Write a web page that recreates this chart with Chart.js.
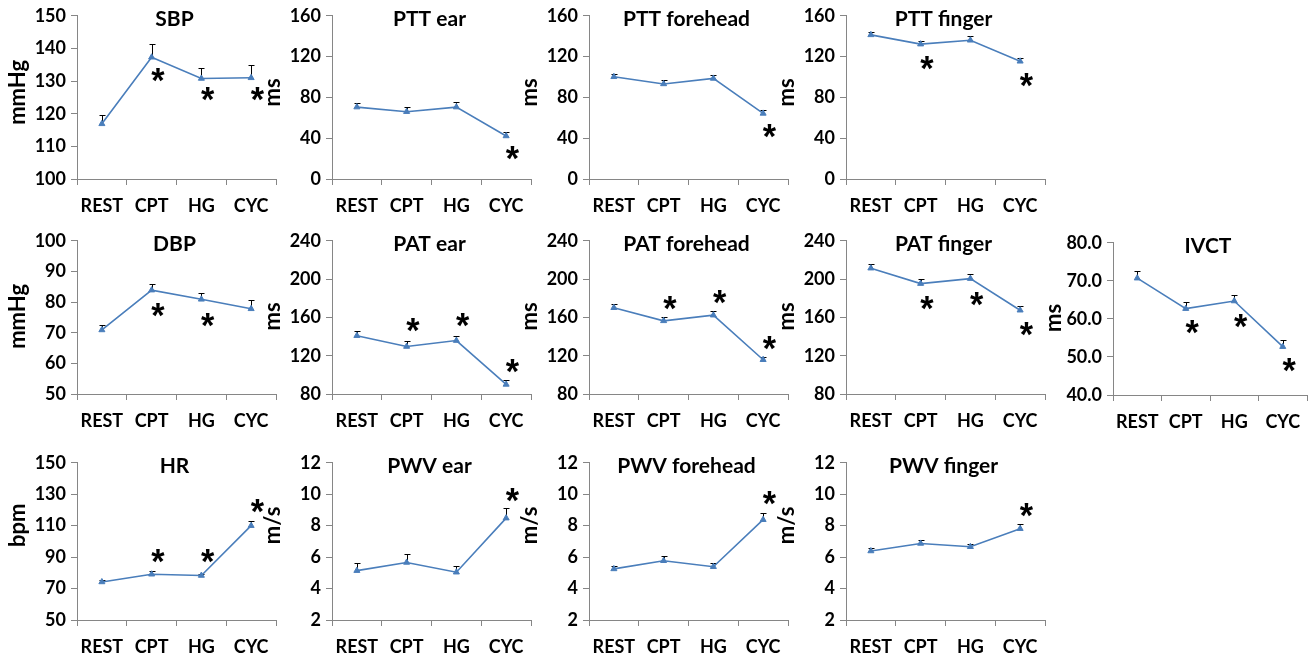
<!DOCTYPE html>
<html><head><meta charset="utf-8">
<script src="https://cdn.jsdelivr.net/npm/chart.js@4.4.1/dist/chart.umd.min.js"></script>
<style>
html,body{margin:0;padding:0;background:#fff;}
#fig{position:relative;width:1312px;height:659px;overflow:hidden;background:#fff;}
#fig canvas{position:absolute;}
</style></head><body><div id="fig"></div>
<script>
// ---------- data ----------
const categories = ['REST', 'CPT', 'HG', 'CYC'];

const sbpMean  = [116.9, 137.3, 130.8, 131.0];
const sbpErr   = [2.7, 4.0, 3.2, 4.0];
const sbpStar  = [null, 132, 126, 126];
const sbpAxis  = [100, 150, 10];

const pttEarMean = [70.5, 66.0, 70.5, 42.2];
const pttEarErr  = [4.1, 5.0, 4.5, 3.5];
const pttEarStar = [null, null, null, 25.4];

const pttForeheadMean = [100.2, 93.2, 98.6, 64.3];
const pttForeheadErr  = [3.2, 4.1, 3.6, 2.9];
const pttForeheadStar = [null, null, null, 47.2];

const pttFingerMean = [141.3, 132.2, 136.0, 115.4];
const pttFingerErr  = [3.2, 3.3, 4.0, 2.9];
const pttFingerStar = [null, 113.8, null, 96.7];
const pttAxis = [0, 160, 40];

const dbpMean = [70.9, 83.9, 80.9, 77.8];
const dbpErr  = [1.6, 2.1, 2.0, 2.9];
const dbpStar = [null, 77.3, 74.2, null];
const dbpAxis = [50, 100, 10];

const patEarMean = [140.9, 129.6, 135.8, 90.0];
const patEarErr  = [4.6, 6.2, 4.4, 4.5];
const patEarStar = [null, 152.3, 157, 109.3];

const patForeheadMean = [170.1, 156.4, 162.3, 115.8];
const patForeheadErr  = [3.5, 4.4, 4.4, 2.7];
const patForeheadStar = [null, 175.3, 181, 133];

const patFingerMean = [211.4, 195.3, 200.5, 167.5];
const patFingerErr  = [4.1, 4.7, 4.7, 4.1];
const patFingerStar = [null, 175.3, 179.4, 147.7];
const patAxis = [80, 240, 40];

const ivctMean = [70.7, 62.7, 64.7, 52.7];
const ivctErr  = [1.8, 1.7, 1.7, 1.8];
const ivctStar = [null, 57.9, 59.5, 47.8];
const ivctAxis = [40, 80, 10];

const hrMean = [74.2, 79.1, 78.3, 110.0];
const hrErr  = [1.5, 2.1, 1.2, 3.2];
const hrStar = [null, 91, 91, 122.6];
const hrAxis = [50, 150, 20];

const pwvEarMean = [5.14, 5.66, 5.04, 8.48];
const pwvEarErr  = [0.46, 0.56, 0.42, 0.62];
const pwvEarStar = [null, null, null, 9.94];

const pwvForeheadMean = [5.25, 5.77, 5.39, 8.38];
const pwvForeheadErr  = [0.21, 0.31, 0.21, 0.45];
const pwvForeheadStar = [null, null, null, 9.73];

const pwvFingerMean = [6.39, 6.87, 6.66, 7.81];
const pwvFingerErr  = [0.21, 0.25, 0.19, 0.29];
const pwvFingerStar = [null, null, null, 9.0];
const pwvAxis = [2, 12, 2];

// ---------- layout / style ----------
const FONT = 'Lato, "Open Sans", "Liberation Sans", sans-serif';
const BLUE = '#4A7EBB';
const AXIS = '#868686';
const colAxisX = [77, 332, 589, 846, 1113];
const rowPlot = [[14, 179], [239, 394], [461, 620]];
const rowCanvasBottom = [215, 438, 659];
const rowYTitleShift = [-5, -1, -16];
const LEFT = 77;

const panels = [
  {title:'SBP', yTitle:'mmHg', mean:sbpMean, err:sbpErr, star:sbpStar, axis:sbpAxis, col:0, row:0},
  {title:'PTT ear', yTitle:'ms', mean:pttEarMean, err:pttEarErr, star:pttEarStar, axis:pttAxis, col:1, row:0},
  {title:'PTT forehead', yTitle:'ms', mean:pttForeheadMean, err:pttForeheadErr, star:pttForeheadStar, axis:pttAxis, col:2, row:0},
  {title:'PTT finger', yTitle:'ms', mean:pttFingerMean, err:pttFingerErr, star:pttFingerStar, axis:pttAxis, col:3, row:0},
  {title:'DBP', yTitle:'mmHg', mean:dbpMean, err:dbpErr, star:dbpStar, axis:dbpAxis, col:0, row:1},
  {title:'PAT ear', yTitle:'ms', mean:patEarMean, err:patEarErr, star:patEarStar, axis:patAxis, col:1, row:1},
  {title:'PAT forehead', yTitle:'ms', mean:patForeheadMean, err:patForeheadErr, star:patForeheadStar, axis:patAxis, col:2, row:1},
  {title:'PAT finger', yTitle:'ms', mean:patFingerMean, err:patFingerErr, star:patFingerStar, axis:patAxis, col:3, row:1},
  {title:'IVCT', yTitle:'ms', mean:ivctMean, err:ivctErr, star:ivctStar, axis:ivctAxis, col:4, row:1, decimals:1, plotW:195, plot:[241,395]},
  {title:'HR', yTitle:'bpm', mean:hrMean, err:hrErr, star:hrStar, axis:hrAxis, col:0, row:2},
  {title:'PWV ear', yTitle:'m/s', mean:pwvEarMean, err:pwvEarErr, star:pwvEarStar, axis:pwvAxis, col:1, row:2},
  {title:'PWV forehead', yTitle:'m/s', mean:pwvForeheadMean, err:pwvForeheadErr, star:pwvForeheadStar, axis:pwvAxis, col:2, row:2},
  {title:'PWV finger', yTitle:'m/s', mean:pwvFingerMean, err:pwvFingerErr, star:pwvFingerStar, axis:pwvAxis, col:3, row:2}
];

const fig = document.getElementById('fig');

function panelPlugin(p) {
  return {
    id: 'panelDecor',
    beforeDatasetsDraw(chart) {
      const ctx = chart.ctx, xs = chart.scales.x, ys = chart.scales.y;
      ctx.save();
      ctx.strokeStyle = '#000';
      ctx.lineWidth = 1;
      p.err.forEach((e, i) => {
        const m = p.mean[i];
        const x = Math.round(xs.getPixelForValue(i)) + 0.5;
        const y0 = ys.getPixelForValue(m);
        const y1 = Math.round(ys.getPixelForValue(m + e)) + 0.5;
        ctx.beginPath();
        ctx.moveTo(x, y0); ctx.lineTo(x, y1);
        ctx.moveTo(x - 3, y1); ctx.lineTo(x + 3, y1);
        ctx.stroke();
      });
      ctx.restore();
    },
    afterDraw(chart) {
      const ctx = chart.ctx, xs = chart.scales.x, ys = chart.scales.y, ca = chart.chartArea;
      ctx.save();
      ctx.fillStyle = '#000';
      // panel title
      ctx.font = 'bold 21px ' + FONT;
      ctx.textAlign = 'center';
      ctx.textBaseline = 'alphabetic';
      const capH = ctx.measureText('H').actualBoundingBoxAscent;
      ctx.fillText(p.title, (ca.left + ca.right) / 2 - 2, ca.top + 3 + capH / 2);
      // y axis title
      ctx.save();
      ctx.font = 'bold 22px ' + FONT;
      ctx.translate(ca.left - 59, (ca.top + ca.bottom) / 2 + rowYTitleShift[p.row]);
      ctx.rotate(-Math.PI / 2);
      ctx.textAlign = 'center';
      ctx.textBaseline = 'middle';
      ctx.fillText(p.yTitle, 0, 0);
      ctx.restore();
      // significance stars
      ctx.font = 'bold 100px "Liberation Sans", sans-serif';
      let m = ctx.measureText('*');
      const inkH = m.actualBoundingBoxAscent + m.actualBoundingBoxDescent;
      const size = 100 * 13 / inkH;
      ctx.font = 'bold ' + size.toFixed(2) + 'px "Liberation Sans", sans-serif';
      m = ctx.measureText('*');
      const off = (m.actualBoundingBoxAscent - m.actualBoundingBoxDescent) / 2;
      const offX = (m.actualBoundingBoxRight - m.actualBoundingBoxLeft) / 2;
      ctx.textAlign = 'left';
      p.star.forEach((s, i) => {
        if (s === null) return;
        const x = xs.getPixelForValue(i);
        const y = ys.getPixelForValue(s);
        ctx.fillText('*', x - offX, y + off);
      });
      ctx.restore();
    }
  };
}

panels.forEach(p => {
  const plotW = p.plotW || 200;
  const [top, bottom] = p.plot || rowPlot[p.row];
  const canvasTop = top - 14;
  const H = rowCanvasBottom[p.row] - canvasTop;
  const W = LEFT + plotW + 4;
  const canvas = document.createElement('canvas');
  canvas.width = W; canvas.height = H;
  canvas.style.left = (colAxisX[p.col] - LEFT) + 'px';
  canvas.style.top = canvasTop + 'px';
  canvas.style.width = W + 'px'; canvas.style.height = H + 'px';
  fig.appendChild(canvas);
  const tickFont = {family: FONT, size: 18, weight: 'bold'};
  new Chart(canvas, {
    type: 'line',
    data: {
      labels: categories,
      datasets: [{
        data: p.mean,
        borderColor: BLUE, backgroundColor: BLUE,
        borderWidth: 1.6, tension: 0, fill: false,
        pointStyle: 'triangle', pointRadius: 3.5, pointBorderWidth: 1,
        pointBackgroundColor: BLUE, pointBorderColor: BLUE
      }]
    },
    options: {
      responsive: false, animation: false, devicePixelRatio: 1,
      layout: {padding: {top: 14, left: 0, right: 4, bottom: 0}},
      plugins: {legend: {display: false}, tooltip: {enabled: false}, title: {display: false}},
      scales: {
        x: {
          offset: true,
          grid: {offset: true, display: true, drawOnChartArea: false, drawTicks: true, tickLength: 6, color: AXIS},
          border: {display: true, color: AXIS, width: 1},
          ticks: {font: tickFont, color: '#000', padding: 10, maxRotation: 0, autoSkip: false},
          afterFit(s) { s.height = H - 14 - (bottom - top); }
        },
        y: {
          min: p.axis[0], max: p.axis[1],
          grid: {display: true, drawOnChartArea: false, drawTicks: true, tickLength: 6, color: AXIS},
          border: {display: true, color: AXIS, width: 1},
          ticks: {
            stepSize: p.axis[2], font: tickFont, color: '#000', padding: 5,
            callback: v => p.decimals ? Number(v).toFixed(p.decimals) : String(v)
          },
          afterFit(s) { s.width = LEFT; }
        }
      }
    },
    plugins: [panelPlugin(p)]
  });
});
</script>
</body></html>
